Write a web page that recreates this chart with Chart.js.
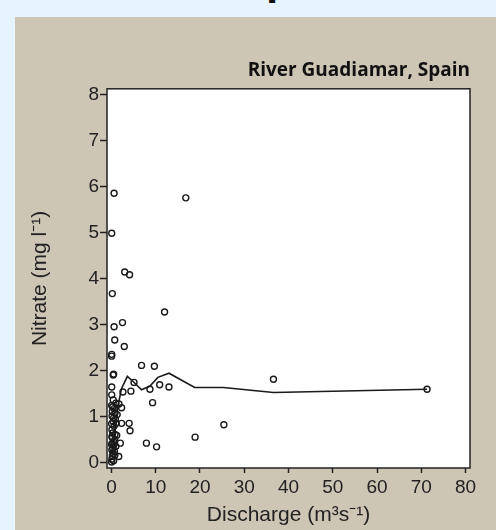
<!DOCTYPE html>
<html>
<head>
<meta charset="utf-8">
<script src="https://cdn.jsdelivr.net/npm/chart.js@4"></script>
<style>
  html, body { margin: 0; padding: 0; }
  body { width: 496px; height: 530px; background: #e5f4fe; position: relative; overflow: hidden; }
  #cut { position: absolute; left: 266px; top: -41px; font: bold 40px 'Open Sans'; line-height: 40px; color: #111; }
  #panel { position: absolute; left: 15px; top: 17px; width: 481px; height: 513px; background: #cec6b4; }
</style>
</head>
<body>
<div id="cut">p</div>
<div id="panel"><canvas id="nitrateChart"></canvas></div>
<script>
// observed samples (discharge m3/s, nitrate mg/l)
const discharge = [
  0.6, 0.07, 3.0, 4.1, 0.2, 16.8, 12.0,
  0.6, 2.5, 0.75, 2.9, 0.07, 0.05, 0.5, 0.4,
  6.8, 9.7, 0.07, 2.6, 4.4, 5.1, 0.07, 8.7, 10.9, 13.0, 9.3,
  2.3, 4.0, 2.3, 4.2, 7.9, 10.2, 2.0, 1.65, 18.9, 25.4, 36.6, 71.3,
  0.4, 1.0, 1.7, 0.2, 0.8, 0.4, 1.1, 0.1, 0.1, 0.75, 0.2, 1.0, 0.1, 0.4, 0.1, 0.5, 0.8,
  0.05, 0.3, 0.6, 0.15, 0.5, 0.05, 0.6, 0.3, 0.8, 0.05, 0.5, 0.3, 0.7, 0.2, 0.05, 1.2, 0.9, 1.3, 0.25, 0.6
];
const nitrate = [
  5.86, 4.99, 4.15, 4.09, 3.68, 5.76, 3.28,
  2.96, 3.05, 2.67, 2.53, 2.36, 2.32, 1.93, 1.91,
  2.12, 2.10, 1.65, 1.54, 1.56, 1.75, 1.48, 1.60, 1.70, 1.65, 1.31,
  1.20, 0.86, 0.86, 0.70, 0.43, 0.35, 0.43, 0.14, 0.56, 0.83, 1.82, 1.60,
  1.37, 1.30, 1.28, 1.12, 1.08, 0.90, 0.86, 0.72, 0.57, 0.50, 0.43, 0.36, 0.28, 0.21, 0.08, 0.05, 0.17,
  1.25, 1.22, 1.18, 1.02, 0.98, 0.85, 0.80, 0.65, 0.62, 0.40, 0.38, 0.32, 0.25, 0.15, 0.02, 0.60, 0.95, 1.05, 0.55, 0.45
];

// smoothed trend line
const smoothDischarge = [0.2, 0.8, 1.5, 2.3, 3.6, 4.9, 6.8, 8.7, 10.5, 13.0, 18.8, 25.3, 36.6, 71.3];
const smoothNitrate = [0.25, 0.7, 1.25, 1.62, 1.88, 1.77, 1.59, 1.67, 1.86, 1.95, 1.64, 1.64, 1.53, 1.60];

const xTicks = [0, 10, 20, 30, 40, 50, 60, 70, 80];
const yTicks = [0, 1, 2, 3, 4, 5, 6, 7, 8];

const ink = '#1a1a1a';

const plotFrame = {
  id: 'plotFrame',
  beforeDraw(chart) {
    const a = chart.chartArea;
    const ctx = chart.ctx;
    ctx.save();
    ctx.fillStyle = '#ffffff';
    ctx.fillRect(a.left, a.top, a.right - a.left, a.bottom - a.top);
    ctx.restore();
  },
  afterDraw(chart) {
    const a = chart.chartArea;
    const ctx = chart.ctx;
    ctx.save();
    ctx.strokeStyle = '#222';
    ctx.lineWidth = 1.5;
    ctx.strokeRect(a.left, a.top, a.right - a.left, a.bottom - a.top);
    ctx.restore();
  }
};

new Chart(document.getElementById('nitrateChart'), {
  type: 'scatter',
  data: {
    datasets: [
      {
        label: 'Samples',
        data: discharge.map((x, i) => ({ x: x, y: nitrate[i] })),
        pointRadius: 3,
        pointBorderWidth: 1.4,
        borderColor: ink,
        backgroundColor: 'transparent',
      },
      {
        label: 'Smooth',
        data: smoothDischarge.map((x, i) => ({ x: x, y: smoothNitrate[i] })),
        showLine: true,
        pointRadius: 0,
        borderColor: ink,
        borderWidth: 1.6,
        tension: 0,
      },
    ],
  },
  options: {
    responsive: true,
    maintainAspectRatio: false,
    animation: false,
    layout: { padding: { left: 0, right: 26, top: 0, bottom: 0 } },
    plugins: {
      legend: { display: false },
      tooltip: { enabled: false },
      title: {
        display: true,
        text: 'River Guadiamar, Spain',
        align: 'end',
        color: '#111',
        font: { family: "'Open Sans'", size: 19, weight: 'bold' },
        padding: { top: 42, bottom: 7 },
      },
    },
    scales: {
      x: {
        type: 'linear',
        min: -1,
        max: 81,
        afterBuildTicks: (scale) => { scale.ticks = xTicks.map((v) => ({ value: v })); },
        afterFit: (scale) => { scale.height = 62; },
        border: { display: false },
        grid: { drawOnChartArea: false, tickLength: 5, tickColor: '#222', tickWidth: 1.5 },
        ticks: { color: '#222', padding: 3, maxRotation: 0, font: { family: "'Liberation Sans'", size: 19 } },
        title: {
          display: true,
          text: 'Discharge (m³s⁻¹)',
          color: '#222',
          font: { family: "'Liberation Sans'", size: 21 },
          padding: { top: 0, bottom: 2 },
        },
      },
      y: {
        type: 'linear',
        min: -0.11,
        max: 8.13,
        afterBuildTicks: (scale) => { scale.ticks = yTicks.map((v) => ({ value: v })); },
        afterFit: (scale) => { scale.width = 92; },
        border: { display: false },
        grid: { drawOnChartArea: false, tickLength: 7, tickColor: '#222', tickWidth: 1.5 },
        ticks: { color: '#222', padding: 1, font: { family: "'Liberation Sans'", size: 19 } },
        title: {
          display: true,
          text: 'Nitrate (mg l⁻¹)',
          color: '#222',
          font: { family: "'Liberation Sans'", size: 21 },
          padding: { top: 13, bottom: 0 },
        },
      },
    },
  },
  plugins: [plotFrame],
});
</script>
</body>
</html>
